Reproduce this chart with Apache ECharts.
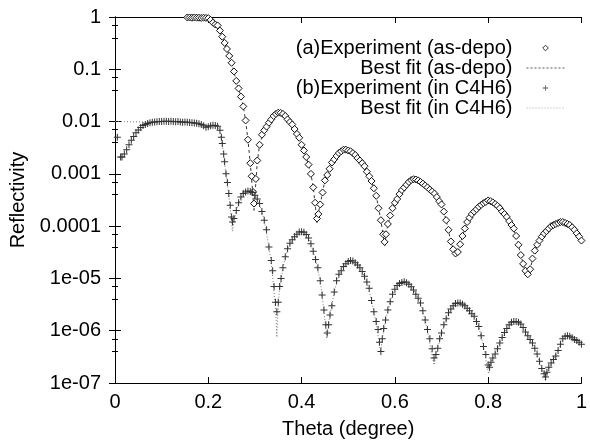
<!DOCTYPE html>
<html>
<head>
<meta charset="utf-8">
<script src="https://cdn.jsdelivr.net/npm/echarts@6.0.0/dist/echarts.min.js"></script>
<style>
html, body { margin: 0; padding: 0; background: #fff; }
#main { width: 590px; height: 444px; }
</style>
</head>
<body>
<div id="main"></div>
<script>
var seriesNames = ['(a)Experiment (as-depo)', 'Best fit (as-depo)', '(b)Experiment (in C4H6)', 'Best fit (in C4H6)'];
var xTickLabels = ['0', '0.2', '0.4', '0.6', '0.8', '1'];
var yTickLabels = ['1e-07', '1e-06', '1e-05', '0.0001', '0.001', '0.01', '0.1', '1'];

// [theta, reflectivity]
var expA = [
	[0.155, 0.98], [0.16, 0.98], [0.165, 0.97], [0.17, 0.98], [0.175, 0.97], [0.18, 0.97], [0.185, 0.96],
	[0.19, 0.97], [0.195, 0.96], [0.2, 0.95], [0.205, 0.88], [0.21, 0.78], [0.215, 0.72], [0.22, 0.69],
	[0.225, 0.55], [0.23, 0.42], [0.235, 0.32], [0.24, 0.245], [0.245, 0.18], [0.25, 0.133], [0.255, 0.091],
	[0.26, 0.06], [0.265, 0.043], [0.27, 0.03], [0.275, 0.0195], [0.28, 0.0105], [0.285, 0.0045], [0.29, 0.0016],
	[0.293, 0.0009], [0.296, 0.00045], [0.298, 0.00027], [0.302, 0.0008], [0.305, 0.0018], [0.31, 0.0036],
	[0.315, 0.0056], [0.32, 0.0068], [0.325, 0.008], [0.33, 0.0095], [0.335, 0.011], [0.34, 0.0128],
	[0.345, 0.014], [0.35, 0.0148], [0.355, 0.0147], [0.36, 0.014], [0.365, 0.0128], [0.37, 0.011],
	[0.375, 0.0098], [0.38, 0.0088], [0.385, 0.0072], [0.39, 0.0058], [0.395, 0.0049], [0.4, 0.0036],
	[0.405, 0.0028], [0.41, 0.0021], [0.415, 0.0015], [0.42, 0.001], [0.425, 0.00055], [0.429, 0.00028],
	[0.433, 0.00014], [0.436, 0.00017], [0.44, 0.00026], [0.445, 0.00044], [0.45, 0.00075], [0.455, 0.00095],
	[0.46, 0.00125], [0.465, 0.00165], [0.47, 0.0019], [0.475, 0.0022], [0.48, 0.0025], [0.485, 0.0027],
	[0.49, 0.0029], [0.495, 0.0029], [0.5, 0.0028], [0.505, 0.0027], [0.51, 0.0025], [0.515, 0.0023],
	[0.52, 0.002], [0.525, 0.0018], [0.53, 0.0016], [0.535, 0.0014], [0.54, 0.0011], [0.545, 0.0009],
	[0.55, 0.00073], [0.555, 0.00053], [0.56, 0.00038], [0.565, 0.00022], [0.57, 0.00013], [0.575, 0.00007],
	[0.578, 0.00005], [0.581, 0.00007], [0.585, 0.00011], [0.59, 0.00016], [0.595, 0.00022], [0.6, 0.00028],
	[0.605, 0.00033], [0.61, 0.00041], [0.615, 0.00049], [0.62, 0.00055], [0.625, 0.00062], [0.63, 0.0007],
	[0.635, 0.00076], [0.64, 0.00079], [0.645, 0.00078], [0.65, 0.00075], [0.655, 0.0007], [0.66, 0.00065],
	[0.665, 0.0006], [0.67, 0.00055], [0.675, 0.0005], [0.68, 0.00046], [0.685, 0.00042], [0.69, 0.00036],
	[0.695, 0.0003], [0.7, 0.00026], [0.705, 0.00019], [0.71, 0.00013], [0.715, 0.000085], [0.72, 0.000051],
	[0.725, 0.000036], [0.73, 0.00003], [0.735, 0.000032], [0.74, 0.000045], [0.745, 0.000065], [0.75, 0.00009],
	[0.755, 0.00012], [0.76, 0.000145], [0.765, 0.00017], [0.77, 0.00019], [0.775, 0.00021], [0.78, 0.000235],
	[0.785, 0.000255], [0.79, 0.000275], [0.795, 0.00029], [0.8, 0.00031], [0.805, 0.0003], [0.81, 0.000285],
	[0.815, 0.000265], [0.82, 0.000245], [0.825, 0.00022], [0.83, 0.00019], [0.835, 0.00017], [0.84, 0.00015],
	[0.845, 0.000125], [0.85, 0.000105], [0.855, 0.00009], [0.86, 0.000065], [0.865, 0.000044], [0.87, 0.000028],
	[0.875, 0.000019], [0.88, 0.000014], [0.885, 0.000012], [0.89, 0.000015], [0.895, 0.000024], [0.9, 0.000034],
	[0.905, 0.000044], [0.91, 0.000053], [0.915, 0.000063], [0.92, 0.000073], [0.925, 0.00008], [0.93, 0.00009],
	[0.935, 0.0001], [0.94, 0.000105], [0.945, 0.00011], [0.95, 0.000115], [0.955, 0.00012], [0.96, 0.00012],
	[0.965, 0.000115], [0.97, 0.00011], [0.975, 0.000105], [0.98, 0.000095], [0.985, 0.000085], [0.99, 0.000073],
	[0.995, 0.000063], [1.0, 0.000053]
];

var fitA = [
	[0.155, 0.99], [0.17, 0.99], [0.19, 0.98], [0.2, 0.96], [0.205, 0.88], [0.21, 0.78], [0.215, 0.72],
	[0.22, 0.68], [0.225, 0.55], [0.23, 0.42], [0.24, 0.245], [0.25, 0.133], [0.26, 0.06], [0.27, 0.03],
	[0.275, 0.0195], [0.28, 0.0105], [0.285, 0.0045], [0.29, 0.0016], [0.294, 0.0006], [0.298, 0.0002],
	[0.302, 0.0007], [0.305, 0.0017], [0.31, 0.0036], [0.32, 0.0068], [0.33, 0.0095], [0.34, 0.0128],
	[0.35, 0.0148], [0.36, 0.014], [0.37, 0.011], [0.38, 0.0088], [0.39, 0.0058], [0.4, 0.0036],
	[0.41, 0.0021], [0.42, 0.001], [0.425, 0.00055], [0.43, 0.00022], [0.4326, 0.00011], [0.436, 0.00018],
	[0.44, 0.00026], [0.45, 0.00075], [0.46, 0.00125], [0.47, 0.0019], [0.48, 0.0025], [0.49, 0.0029],
	[0.5, 0.0028], [0.51, 0.0025], [0.52, 0.002], [0.53, 0.0016], [0.54, 0.0011], [0.55, 0.00073],
	[0.56, 0.00038], [0.57, 0.00013], [0.575, 0.000065], [0.578, 0.00004], [0.582, 0.00008], [0.59, 0.00016],
	[0.6, 0.00028], [0.61, 0.00041], [0.62, 0.00055], [0.63, 0.0007], [0.64, 0.00079], [0.65, 0.00075],
	[0.66, 0.00065], [0.67, 0.00055], [0.68, 0.00046], [0.69, 0.00036], [0.7, 0.00026], [0.71, 0.00013],
	[0.72, 0.000051], [0.73, 0.000026], [0.735, 0.00003], [0.74, 0.000045], [0.75, 0.00009], [0.76, 0.000145],
	[0.77, 0.00019], [0.78, 0.000235], [0.79, 0.000275], [0.8, 0.00031], [0.81, 0.000285], [0.82, 0.000245],
	[0.83, 0.00019], [0.84, 0.00015], [0.85, 0.000105], [0.86, 0.000065], [0.87, 0.000028], [0.88, 0.000013],
	[0.884, 0.000011], [0.89, 0.000015], [0.9, 0.000034], [0.91, 0.000053], [0.92, 0.000073], [0.93, 0.00009],
	[0.94, 0.000105], [0.95, 0.000115], [0.96, 0.00012], [0.97, 0.00011], [0.98, 0.000095], [0.99, 0.000073],
	[1.0, 0.000053]
];

var expB = [
	[0.005, 0.005], [0.012, 0.0021], [0.015, 0.0021], [0.02, 0.0024], [0.025, 0.0029], [0.03, 0.0036],
	[0.035, 0.0044], [0.04, 0.0052], [0.045, 0.0061], [0.05, 0.0069], [0.055, 0.0077], [0.06, 0.0084],
	[0.065, 0.0088], [0.07, 0.0092], [0.075, 0.0095], [0.08, 0.0097], [0.085, 0.0098], [0.09, 0.0099],
	[0.095, 0.01], [0.1, 0.01], [0.105, 0.0101], [0.11, 0.0101], [0.115, 0.01], [0.12, 0.0101],
	[0.125, 0.01], [0.13, 0.0099], [0.135, 0.01], [0.14, 0.0098], [0.145, 0.0097], [0.15, 0.0098],
	[0.155, 0.0097], [0.16, 0.0096], [0.165, 0.0095], [0.17, 0.0094], [0.175, 0.0093], [0.18, 0.0091],
	[0.185, 0.0088], [0.19, 0.0083], [0.195, 0.0078], [0.2, 0.008], [0.205, 0.0083], [0.21, 0.0085],
	[0.215, 0.0084], [0.22, 0.0081], [0.225, 0.0068], [0.228, 0.005], [0.23, 0.0038], [0.233, 0.0024],
	[0.235, 0.0017], [0.238, 0.001], [0.241, 0.00068], [0.244, 0.00042], [0.247, 0.00025], [0.25, 0.00015],
	[0.252, 0.00012], [0.255, 0.00014], [0.26, 0.0002], [0.265, 0.00028], [0.27, 0.00036], [0.275, 0.00042],
	[0.28, 0.00045], [0.285, 0.00047], [0.29, 0.00046], [0.295, 0.00044], [0.3, 0.00039], [0.305, 0.00033],
	[0.31, 0.00027], [0.315, 0.00019], [0.32, 0.00013], [0.325, 0.000085], [0.33, 0.00004], [0.335, 0.000022],
	[0.338, 0.000014], [0.341, 0.000007], [0.344, 0.0000035], [0.347, 0.0000023], [0.35, 0.0000035],
	[0.353, 0.000007], [0.356, 0.00001], [0.36, 0.000016], [0.365, 0.000026], [0.37, 0.000037], [0.375, 0.000047],
	[0.38, 0.000055], [0.385, 0.000063], [0.39, 0.00007], [0.395, 0.000077], [0.4, 0.000078], [0.405, 0.000076],
	[0.41, 0.000069], [0.415, 0.000059], [0.42, 0.000046], [0.425, 0.000033], [0.43, 0.000023], [0.435, 0.000016],
	[0.44, 0.000009], [0.444, 0.0000048], [0.448, 0.0000025], [0.452, 0.0000013], [0.455, 0.0000009],
	[0.458, 0.0000013], [0.461, 0.000002], [0.465, 0.000003], [0.47, 0.0000055], [0.475, 0.000009],
	[0.48, 0.000012], [0.485, 0.000014], [0.49, 0.000017], [0.495, 0.000019], [0.5, 0.000021], [0.505, 0.000022],
	[0.51, 0.0000215], [0.515, 0.00002], [0.52, 0.000018], [0.525, 0.000016], [0.53, 0.0000135], [0.535, 0.000011],
	[0.54, 0.0000085], [0.545, 0.0000065], [0.55, 0.0000038], [0.555, 0.0000023], [0.56, 0.0000015],
	[0.564, 0.00000105], [0.567, 0.0000006], [0.57, 0.0000004], [0.573, 0.0000007], [0.576, 0.0000011],
	[0.58, 0.0000016], [0.585, 0.0000025], [0.59, 0.0000036], [0.595, 0.000005], [0.6, 0.0000062],
	[0.605, 0.0000073], [0.61, 0.000008], [0.615, 0.0000084], [0.62, 0.0000086], [0.625, 0.0000083],
	[0.63, 0.0000077], [0.635, 0.0000069], [0.64, 0.000006], [0.645, 0.000005], [0.65, 0.0000042],
	[0.655, 0.0000034], [0.66, 0.0000024], [0.665, 0.0000016], [0.67, 0.00000105], [0.675, 0.0000007],
	[0.68, 0.00000045], [0.684, 0.0000003], [0.688, 0.00000035], [0.692, 0.00000046], [0.696, 0.0000007],
	[0.7, 0.0000009], [0.705, 0.0000013], [0.71, 0.0000017], [0.715, 0.0000022], [0.72, 0.0000026],
	[0.725, 0.000003], [0.73, 0.0000033], [0.735, 0.0000034], [0.74, 0.0000034], [0.745, 0.0000032],
	[0.75, 0.000003], [0.755, 0.0000027], [0.76, 0.0000024], [0.765, 0.0000021], [0.77, 0.0000019],
	[0.775, 0.0000015], [0.78, 0.0000012], [0.785, 0.0000008], [0.79, 0.0000005], [0.795, 0.00000035],
	[0.8, 0.00000022], [0.803, 0.0000002], [0.806, 0.00000025], [0.81, 0.0000003], [0.815, 0.00000036],
	[0.82, 0.00000045], [0.825, 0.00000058], [0.83, 0.00000074], [0.835, 0.00000092], [0.84, 0.0000011],
	[0.845, 0.0000013], [0.85, 0.00000145], [0.855, 0.0000015], [0.86, 0.0000015], [0.865, 0.00000145],
	[0.87, 0.00000135], [0.875, 0.00000115], [0.88, 0.00000095], [0.885, 0.0000008], [0.89, 0.00000068],
	[0.895, 0.00000058], [0.9, 0.00000046], [0.905, 0.00000036], [0.91, 0.00000026], [0.915, 0.00000019],
	[0.92, 0.00000015], [0.923, 0.00000013], [0.926, 0.00000016], [0.93, 0.0000002], [0.935, 0.00000024],
	[0.94, 0.00000028], [0.945, 0.00000033], [0.95, 0.00000042], [0.955, 0.00000055], [0.96, 0.0000007],
	[0.965, 0.00000078], [0.97, 0.0000008], [0.975, 0.00000078], [0.98, 0.00000073], [0.985, 0.00000068],
	[0.99, 0.00000065], [0.995, 0.0000006], [1.0, 0.00000055]
];

var fitB = [
	[0, 0.01], [0.02, 0.01], [0.04, 0.0099], [0.06, 0.0098], [0.08, 0.0098], [0.1, 0.0099], [0.12, 0.01],
	[0.14, 0.0099], [0.16, 0.0097], [0.18, 0.0092], [0.19, 0.0084], [0.195, 0.0079], [0.2, 0.008],
	[0.21, 0.0085], [0.22, 0.008], [0.225, 0.0066], [0.23, 0.0037], [0.235, 0.0016], [0.24, 0.00075],
	[0.245, 0.00032], [0.25, 0.00011], [0.252, 0.00008], [0.255, 0.00012], [0.26, 0.0002], [0.27, 0.00036],
	[0.28, 0.00045], [0.29, 0.00046], [0.3, 0.00039], [0.31, 0.00026], [0.32, 0.00013], [0.33, 0.00004],
	[0.335, 0.00002], [0.34, 0.000007], [0.345, 0.000002], [0.347, 0.00000075], [0.349, 0.000002],
	[0.352, 0.0000055], [0.36, 0.000016], [0.37, 0.000037], [0.38, 0.000055], [0.39, 0.00007], [0.4, 0.000078],
	[0.41, 0.000069], [0.42, 0.000046], [0.43, 0.000023], [0.44, 0.000009], [0.445, 0.000004], [0.45, 0.0000016],
	[0.454, 0.0000007], [0.457, 0.0000011], [0.46, 0.0000018], [0.47, 0.0000055], [0.48, 0.000012],
	[0.49, 0.000017], [0.5, 0.000021], [0.51, 0.0000215], [0.52, 0.000018], [0.53, 0.0000135], [0.54, 0.0000085],
	[0.55, 0.0000038], [0.56, 0.0000014], [0.565, 0.0000007], [0.5695, 0.00000039], [0.573, 0.0000007],
	[0.58, 0.0000016], [0.59, 0.0000036], [0.6, 0.0000062], [0.61, 0.000008], [0.62, 0.0000086], [0.63, 0.0000077],
	[0.64, 0.000006], [0.65, 0.0000042], [0.66, 0.0000024], [0.67, 0.000001], [0.678, 0.0000004],
	[0.684, 0.00000022], [0.69, 0.0000004], [0.7, 0.0000009], [0.71, 0.0000017], [0.72, 0.0000026],
	[0.73, 0.0000033], [0.74, 0.0000034], [0.75, 0.000003], [0.76, 0.0000024], [0.77, 0.0000019],
	[0.78, 0.0000012], [0.79, 0.0000005], [0.796, 0.00000025], [0.801, 0.00000015], [0.806, 0.00000024],
	[0.81, 0.0000003], [0.82, 0.00000045], [0.83, 0.00000074], [0.84, 0.0000011], [0.85, 0.00000145],
	[0.86, 0.0000015], [0.87, 0.00000135], [0.88, 0.00000095], [0.89, 0.00000068], [0.9, 0.00000046],
	[0.91, 0.00000026], [0.92, 0.00000014], [0.923, 0.00000011], [0.927, 0.00000015], [0.935, 0.00000024],
	[0.94, 0.00000028], [0.95, 0.00000042], [0.96, 0.0000007], [0.97, 0.0000008], [0.98, 0.00000073],
	[0.99, 0.00000065], [1.0, 0.00000055]
];

var font = 'Liberation Sans';
var plusPath = 'path://M3,0h1v3h3v1h-3v3h-1v-3h-3v-1h3z';

var chart = echarts.init(document.getElementById('main'));

var xBase = {
	type: 'value',
	min: 0,
	max: 1,
	interval: 0.2,
	splitLine: { show: false },
	axisLine: { lineStyle: { color: '#000', width: 1 } },
	axisTick: { inside: true, length: 6, lineStyle: { color: '#000' } }
};
var yBase = {
	type: 'log',
	logBase: 10,
	min: 1e-7,
	max: 1,
	splitNumber: 7,
	splitLine: { show: false },
	axisLine: { lineStyle: { color: '#000', width: 1 } },
	axisTick: { inside: true, length: 6, lineStyle: { color: '#000' } },
	minorTick: { show: true, splitNumber: 3, length: 3, lineStyle: { color: '#000' } },
	minorSplitLine: { show: false }
};

var option = {
	animation: false,
	backgroundColor: '#fff',
	grid: { left: 115, right: 3, top: 17, bottom: 53 },
	legend: {
		orient: 'vertical',
		right: 20,
		top: 33,
		align: 'right',
		itemWidth: 38,
		itemHeight: 7,
		itemGap: 0,
		selectedMode: false,
		textStyle: { fontFamily: font, fontSize: 20, color: '#000', lineHeight: 20, padding: [0, 9, 0, 0] },
		data: [
			{ name: seriesNames[0], itemStyle: { color: '#fff', borderColor: '#333', borderWidth: 1 } },
			{ name: seriesNames[1], itemStyle: { opacity: 0 }, lineStyle: { color: '#555', width: 1, type: [2, 2] } },
			{ name: seriesNames[2], itemStyle: { color: '#555' } },
			{ name: seriesNames[3], itemStyle: { opacity: 0 }, lineStyle: { color: '#aaa', width: 1, type: [1, 2] } }
		]
	},
	xAxis: [
		Object.assign({}, xBase, {
			position: 'bottom',
			name: 'Theta (degree)',
			nameLocation: 'middle',
			nameGap: 36,
			nameTextStyle: { fontFamily: font, fontSize: 20, color: '#000' },
			axisLabel: {
				margin: 9,
				fontFamily: font,
				fontSize: 20,
				color: '#000',
				formatter: function(v) { return xTickLabels[Math.round(v / 0.2)]; }
			}
		}),
		Object.assign({}, xBase, { position: 'top', axisLabel: { show: false } })
	],
	yAxis: [
		Object.assign({}, yBase, {
			position: 'left',
			name: 'Reflectivity',
			nameLocation: 'middle',
			nameGap: 85,
			nameTextStyle: { fontFamily: font, fontSize: 20, color: '#000' },
			axisLabel: {
				margin: 14,
				fontFamily: font,
				fontSize: 20,
				color: '#000',
				formatter: function(v) { return yTickLabels[Math.round(Math.log10(v)) + 7]; }
			}
		}),
		Object.assign({}, yBase, { position: 'right', axisLabel: { show: false } })
	],
	series: [{
		name: seriesNames[0],
		type: 'line',
		data: expA,
		z: 3,
		symbol: 'diamond',
		symbolSize: 7,
		showAllSymbol: true,
		lineStyle: { width: 0, opacity: 0 },
		itemStyle: { color: '#fff', borderColor: '#111', borderWidth: 1 }
	}, {
		name: seriesNames[1],
		type: 'line',
		data: fitA,
		z: 2,
		symbol: 'none',
		lineStyle: { color: '#333', width: 1, type: [3, 3] },
		itemStyle: { color: '#333' }
	}, {
		name: seriesNames[2],
		type: 'line',
		data: expB,
		z: 3,
		symbol: plusPath,
		symbolSize: 7,
		showAllSymbol: true,
		lineStyle: { width: 0, opacity: 0 },
		itemStyle: { color: '#333' }
	}, {
		name: seriesNames[3],
		type: 'line',
		data: fitB,
		z: 2,
		symbol: 'none',
		lineStyle: { color: '#777', width: 1, type: [1, 2] },
		itemStyle: { color: '#777' }
	}]
};

chart.setOption(option);
</script>
</body>
</html>
